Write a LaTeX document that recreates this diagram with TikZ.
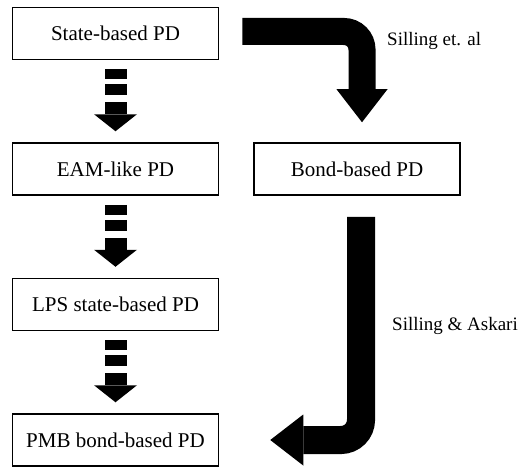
\documentclass[tikz,border=0pt]{standalone}
\usepackage{fontspec}
\setmainfont{Liberation Serif}
\usetikzlibrary{arrows.meta,positioning}

\begin{document}
\begin{tikzpicture}[
    x=1pt, y=-1pt,
    pdbox/.style={draw=black, line width=1.5pt, minimum width=206pt, minimum height=52pt, inner sep=0pt, font=\fontsize{21}{25}\selectfont},
    lbl/.style={inner sep=0pt, font=\fontsize{19}{23}\selectfont},
    dasharr/.style={line width=22pt, dash pattern=on 10pt off 5pt on 11pt off 7pt on 40pt, shorten <=9pt, shorten >=11pt, -{Triangle[width=43pt,length=17pt,line width=0pt]}},
    bigarr/.style={line width=27pt, rounded corners=18pt, -{Triangle[width=51pt,length=33pt,line width=0pt]}}
]
\useasboundingbox (0,0) rectangle (521,468);
% left column
\node[pdbox] (state) at (115.5,33.5) {State-based PD};
\node[pdbox, below=82pt of state] (eam) {EAM-like PD};
\node[pdbox, below=82pt of eam] (lps) {LPS state-based PD};
\node[pdbox, below=82pt of lps] (pmb) {PMB bond-based PD};
% right column
\node[pdbox, right=34pt of eam] (bond) {Bond-based PD};
\node[lbl, anchor=west] (etal) at (387,41) {Silling et. al};
\node[lbl, anchor=east] (askari) at (518,326) {Silling \& Askari};
% dashed block arrows
\draw[dasharr] (state) -- (eam);
\draw[dasharr] (eam) -- (lps);
\draw[dasharr] (lps) -- (pmb);
% bent block arrows
\draw[bigarr] ([xshift=23pt,yshift=2pt]state.east) -| ([xshift=5pt,yshift=20pt]bond.north);
\draw[bigarr, line width=28pt, rounded corners=20pt] ([xshift=4pt,yshift=-21pt]bond.south) |- ([xshift=51pt]pmb.east);
\end{tikzpicture}
\end{document}
